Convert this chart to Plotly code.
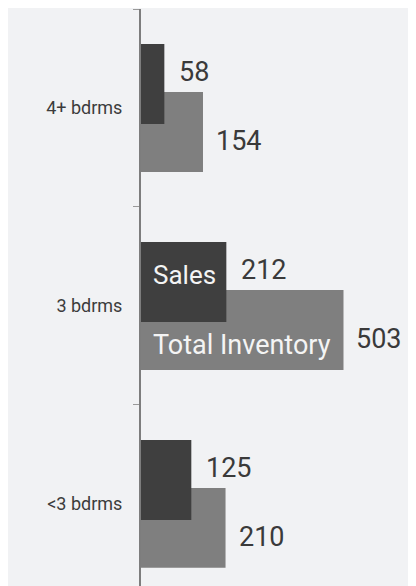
import plotly.graph_objects as go

# data
categorias = ['<3 bdrms', '3 bdrms', '4+ bdrms']
ventas = [125, 212, 58]
inventario = [210, 503, 154]

color_ventas = '#3f3f3f'
color_inv = '#7f7f7f'
fondo = '#f1f2f4'

fig = go.Figure()

# inventario primero para que ventas quede encima
fig.add_trace(go.Bar(
    y=categorias, x=inventario, orientation='h', name='Total Inventory',
    marker=dict(color=color_inv, line=dict(width=0)),
    width=0.404, offset=-0.323, hoverinfo='x+y'
))
fig.add_trace(go.Bar(
    y=categorias, x=ventas, orientation='h', name='Sales',
    marker=dict(color=color_ventas, line=dict(width=0)),
    width=0.404, offset=-0.081, hoverinfo='x+y'
))

# etiquetas de valores
anot = []
for cat, v in zip(categorias, ventas):
    anot.append(dict(x=v, y=cat, text=str(v), showarrow=False, xanchor='left',
                     xshift=13, yshift=36,
                     font=dict(family='Roboto', size=27, color='#3a3a3a')))
for cat, v in zip(categorias, inventario):
    anot.append(dict(x=v, y=cat, text=str(v), showarrow=False, xanchor='left',
                     xshift=11, yshift=-33,
                     font=dict(family='Roboto', size=27, color='#3a3a3a')))

# nombres de series dentro de las barras de 3 bdrms
anot.append(dict(x=0, y='3 bdrms', text='Sales', showarrow=False, xanchor='left',
                 xshift=10, yshift=31,
                 font=dict(family='Roboto', size=26, color='#f4f4f4')))
anot.append(dict(x=0, y='3 bdrms', text='Total Inventory', showarrow=False, xanchor='left',
                 xshift=10, yshift=-39,
                 font=dict(family='Roboto', size=27, color='#f4f4f4')))

fig.update_layout(
    width=416, height=586,
    margin=dict(l=133, r=0, t=1, b=0),
    barmode='overlay',
    showlegend=False,
    paper_bgcolor=fondo,
    plot_bgcolor=fondo,
    annotations=anot,
    xaxis=dict(range=[0, 703], visible=False, fixedrange=True),
    yaxis=dict(
        type='category', categoryorder='array', categoryarray=categorias,
        range=[-0.455, 2.5],
        showline=True, linecolor='#7d7d7d', linewidth=2,
        ticks='outside', tickson='boundaries', ticklen=6, tickcolor='#999999', tickwidth=1,
        ticklabelstandoff=13,
        showgrid=False, zeroline=False,
        tickfont=dict(family='Roboto', size=18, color='#3c3c3c'),
        fixedrange=True
    ),
)

fig.write_html("out.html")
